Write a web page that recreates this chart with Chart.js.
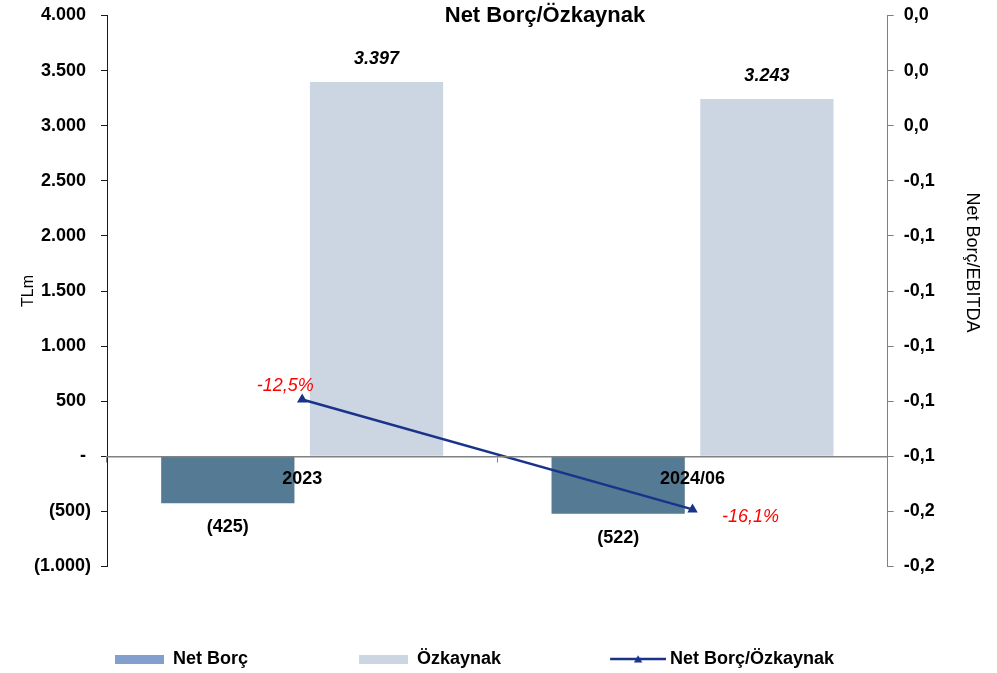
<!DOCTYPE html>
<html lang="tr">
<head>
<meta charset="utf-8">
<title>Net Borç/Özkaynak</title>
<script src="https://cdn.jsdelivr.net/npm/chart.js@4.4.1/dist/chart.umd.min.js"></script>
<style>
  html, body { margin: 0; padding: 0; background: #ffffff; }
  #wrap { width: 997px; height: 673px; }
  canvas { display: block; }
</style>
</head>
<body>
<div id="wrap"><canvas id="chart" width="997" height="673"></canvas></div>
<script>
// ---- data ----
const categories = ['2023', '2024/06'];
const netBorc = [-425, -522];            // TLm
const ozkaynak = [3397, 3243];           // TLm
const netBorcOzkaynak = [-0.125, -0.161]; // ratio
const seriesNames = ['Net Borç', 'Özkaynak', 'Net Borç/Özkaynak'];

// axis ranges
const leftAxis = { min: -1000, max: 4000, step: 500 };
const rightAxis = { min: -0.1797, max: 0.0007, count: 11 };

// ---- styling ----
const FONT = '"Liberation Sans", Arial, Helvetica, sans-serif';
const COLOR_NET = '#557a93';
const COLOR_NET_KEY = '#829fcd';
const COLOR_EQ = '#ccd6e3';
const COLOR_LINE = '#1a338a';
const COLOR_PCT = '#ff0000';

Chart.defaults.font.family = FONT;
Chart.defaults.color = '#000000';

// thousands separated with "." ; negatives in parentheses ; zero as "-"
function fmtThousands(n) {
  return String(Math.round(n)).replace(/\B(?=(\d{3})+(?!\d))/g, '.');
}
function fmtLeftTick(v) {
  if (v === 0) return '- ';
  if (v < 0) return '(' + fmtThousands(-v) + ')';
  return fmtThousands(v) + ' ';
}
function fmtRatioTick(v) {
  let s = v.toFixed(1).replace('.', ',');
  if (s === '-0,0') s = '0,0';
  return s;
}
function fmtPct(v) {
  return (v * 100).toFixed(1).replace('.', ',') + '%';
}

// legend keys: wide swatches and a line with a triangle marker
function swatchKey(color) {
  const c = document.createElement('canvas');
  c.width = 150; c.height = 9;
  const g = c.getContext('2d');
  g.fillStyle = color;
  g.fillRect(101, 0, 49, 9);
  return c;
}
function lineKey(color) {
  const c = document.createElement('canvas');
  c.width = 160; c.height = 12;
  const g = c.getContext('2d');
  g.strokeStyle = color;
  g.lineWidth = 2.5;
  g.beginPath(); g.moveTo(104, 6); g.lineTo(160, 6); g.stroke();
  g.fillStyle = color;
  g.beginPath(); g.moveTo(132, 2.2); g.lineTo(136.2, 9.4); g.lineTo(127.8, 9.4); g.closePath(); g.fill();
  return c;
}

// value labels drawn next to each mark
const valueLabels = {
  id: 'valueLabels',
  afterDatasetsDraw(chart) {
    const ctx = chart.ctx;
    ctx.save();
    ctx.textAlign = 'center';
    ctx.textBaseline = 'middle';
    chart.data.datasets.forEach((ds, di) => {
      const meta = chart.getDatasetMeta(di);
      meta.data.forEach((el, i) => {
        const v = ds.data[i];
        if (ds.type === 'line') {
          const off = ds.labelOffsets[i];
          ctx.font = 'italic 18px ' + FONT;
          ctx.fillStyle = COLOR_PCT;
          ctx.fillText(fmtPct(v), el.x + off[0], el.y + off[1]);
        } else if (v >= 0) {
          ctx.font = 'italic bold 18px ' + FONT;
          ctx.fillStyle = '#000000';
          ctx.fillText(fmtThousands(v), el.x, el.y - 22.5);
        } else {
          ctx.font = 'bold 18px ' + FONT;
          ctx.fillStyle = '#000000';
          ctx.fillText('(' + fmtThousands(-v) + ')', el.x, el.y + 24);
        }
      });
    });
    ctx.restore();
  }
};

// chart heading and the secondary axis caption
const headings = {
  id: 'headings',
  afterDraw(chart) {
    const ctx = chart.ctx;
    const y2 = chart.scales.y2;
    ctx.save();
    ctx.fillStyle = '#000000';
    ctx.textAlign = 'center';
    ctx.textBaseline = 'middle';
    ctx.font = 'bold 22px ' + FONT;
    ctx.fillText('Net Borç/Özkaynak', 545, 15.5);

    ctx.font = '18px ' + FONT;
    ctx.translate(971.5, (y2.top + y2.bottom) / 2 - 28.5);
    ctx.rotate(Math.PI / 2);
    ctx.fillText('Net Borç/EBITDA', 0, 0);
    ctx.restore();
  }
};

const rightTickValues = [];
for (let i = 0; i < rightAxis.count; i++) {
  rightTickValues.push(rightAxis.min + (rightAxis.max - rightAxis.min) * i / (rightAxis.count - 1));
}

const legendKeys = [swatchKey(COLOR_NET_KEY), swatchKey(COLOR_EQ), lineKey(COLOR_LINE)];

// fixed axis widths; the end tick labels may overhang the plot edges
function fixWidth(w) {
  return (scale) => {
    scale.width = w;
    scale.paddingTop = 0;
    scale.paddingBottom = 0;
  };
}

new Chart(document.getElementById('chart'), {
  type: 'bar',
  data: {
    labels: categories,
    datasets: [
      {
        label: seriesNames[0],
        data: netBorc,
        backgroundColor: COLOR_NET,
        yAxisID: 'y',
        order: 1,
        categoryPercentage: 0.762,
        barPercentage: 0.896
      },
      {
        label: seriesNames[1],
        data: ozkaynak,
        backgroundColor: COLOR_EQ,
        yAxisID: 'y',
        order: 1,
        categoryPercentage: 0.762,
        barPercentage: 0.896
      },
      {
        type: 'line',
        label: seriesNames[2],
        data: netBorcOzkaynak,
        yAxisID: 'y2',
        order: 0,
        borderColor: COLOR_LINE,
        backgroundColor: COLOR_LINE,
        borderWidth: 2.5,
        tension: 0,
        fill: false,
        pointStyle: 'triangle',
        pointRadius: 6,
        pointBorderWidth: 0,
        pointBackgroundColor: COLOR_LINE,
        labelOffsets: [[-17, -13.5], [58, 8]]
      }
    ]
  },
  options: {
    responsive: false,
    animation: false,
    events: [],
    layout: { padding: { top: 15.5, left: 4, right: 0, bottom: -5 } },
    plugins: {
      tooltip: { enabled: false },
      title: { display: false },
      legend: {
        display: true,
        position: 'bottom',
        align: 'start',
        title: { display: true, text: '', font: { size: 12, lineHeight: 1 }, padding: { top: 61.5, bottom: 0 } },
        labels: {
          usePointStyle: true,
          pointStyleWidth: 150,
          padding: 10,
          color: '#000000',
          font: { size: 18, weight: 'bold', family: FONT },
          generateLabels: () => seriesNames.map((name, i) => ({
            text: name,
            pointStyle: legendKeys[i],
            fillStyle: [COLOR_NET_KEY, COLOR_EQ, COLOR_LINE][i],
            strokeStyle: 'rgba(0,0,0,0)',
            lineWidth: 0,
            hidden: false,
            datasetIndex: i,
            fontColor: '#000000'
          }))
        }
      }
    },
    scales: {
      x: {
        type: 'category',
        position: { y: 0 },
        offset: true,
        grid: {
          display: true,
          drawOnChartArea: false,
          drawTicks: true,
          tickLength: 5,
          offset: true,
          color: '#808080'
        },
        border: { display: true, color: '#808080', width: 1.5, z: 1 },
        ticks: {
          z: 1,
          color: '#000000',
          font: { size: 18, weight: 'bold' },
          padding: 7,
          maxRotation: 0,
          autoSkip: false
        }
      },
      y: {
        type: 'linear',
        position: 'left',
        min: leftAxis.min,
        max: leftAxis.max,
        afterFit: fixWidth(103),
        grid: { drawOnChartArea: false, drawTicks: true, tickLength: 6, color: '#1a1a1a' },
        border: { display: true, color: '#1a1a1a', width: 1 },
        ticks: {
          stepSize: leftAxis.step,
          padding: 10,
          color: '#000000',
          font: { size: 18, weight: 'bold' },
          callback: (v) => fmtLeftTick(v)
        },
        title: {
          display: true,
          text: 'TLm',
          color: '#000000',
          font: { size: 16, weight: 'normal' },
          padding: { top: 15.4, bottom: 0 }
        }
      },
      y2: {
        type: 'linear',
        position: 'right',
        min: rightAxis.min,
        max: rightAxis.max,
        afterFit: fixWidth(109.3),
        afterBuildTicks: (scale) => { scale.ticks = rightTickValues.map((v) => ({ value: v })); },
        grid: { drawOnChartArea: false, drawTicks: true, tickLength: 6, color: '#808080' },
        border: { display: true, color: '#808080', width: 1 },
        ticks: {
          padding: 10,
          color: '#000000',
          font: { size: 18, weight: 'bold' },
          callback: (v) => fmtRatioTick(v)
        }
      }
    }
  },
  plugins: [valueLabels, headings]
});
</script>
</body>
</html>
